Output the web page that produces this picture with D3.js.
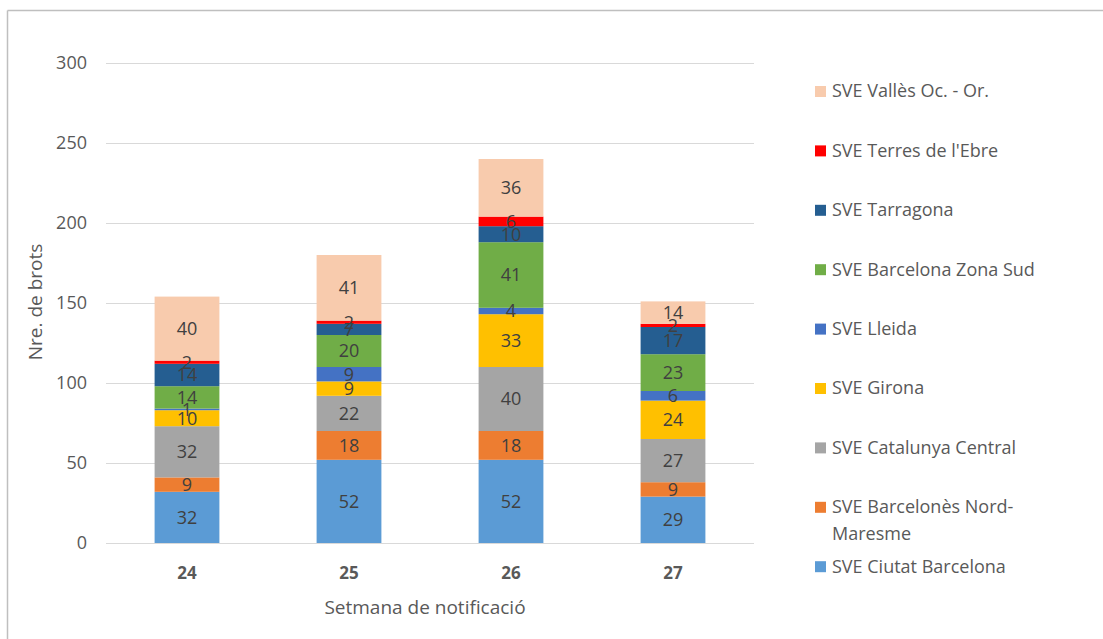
<!DOCTYPE html>
<html lang="en">
<head>
<meta charset="utf-8" />
<title>Brots per setmana</title>
<style>
  html, body { margin: 0; padding: 0; background: #ffffff; }
  svg { display: block; font-family: "Open Sans", "Liberation Sans", sans-serif; }
  .grid line { stroke: #d9d9d9; stroke-width: 1; shape-rendering: crispEdges; }
  .ytick text { fill: #595959; font-size: 18px; }
  .xtick text { fill: #595959; font-size: 17px; font-weight: bold; }
  .lbl { fill: #404040; font-size: 18px; }
  .legend text { fill: #595959; font-size: 18px; }
</style>
<script src="https://d3js.org/d3.v7.min.js"></script>
</head>
<body>
<svg width="1103" height="639"></svg>
<script>
// weeks on the x axis
var weeks = ["24", "25", "26", "27"];

// series, bottom to top
var series = [
  "SVE Ciutat Barcelona",
  "SVE Barcelonès Nord-Maresme",
  "SVE Catalunya Central",
  "SVE Girona",
  "SVE Lleida",
  "SVE Barcelona Zona Sud",
  "SVE Tarragona",
  "SVE Terres de l'Ebre",
  "SVE Vallès Oc. - Or."
];
var colors = ["#5b9bd5", "#ed7d31", "#a5a5a5", "#ffc000", "#4472c4", "#70ad47", "#255e91", "#ff0000", "#f8cbad"];

// values per series, one per week
var ciutatBcn   = [32, 52, 52, 29];
var bcnNord     = [9, 18, 18, 9];
var catCentral  = [32, 22, 40, 27];
var girona      = [10, 9, 33, 24];
var lleida      = [1, 9, 4, 6];
var bcnSud      = [14, 20, 41, 23];
var tarragona   = [14, 7, 10, 17];
var terresEbre  = [2, 2, 6, 2];
var valles      = [40, 41, 36, 14];
var values = [ciutatBcn, bcnNord, catCentral, girona, lleida, bcnSud, tarragona, terresEbre, valles];

var yTicks = [0, 50, 100, 150, 200, 250, 300];

var svg = d3.select("svg");

// chart frame (only top and left edges visible)
svg.append("line").attr("x1", 7.5).attr("x2", 1103).attr("y1", 10.5).attr("y2", 10.5)
   .attr("stroke", "#bfbfbf").attr("stroke-width", 1.5);
svg.append("line").attr("x1", 7.5).attr("x2", 7.5).attr("y1", 10.5).attr("y2", 639)
   .attr("stroke", "#bfbfbf").attr("stroke-width", 1.5);

var plotL = 106, plotR = 754, plotT = 63, plotB = 543;

var x = d3.scaleBand().domain(weeks).range([plotL, plotR]).paddingInner(0.6).paddingOuter(0.3);
var y = d3.scaleLinear().domain([0, 300]).range([plotB, plotT]);

// gridlines + y labels
var gy = svg.append("g").attr("class", "grid");
yTicks.forEach(function(t) {
  gy.append("line").attr("x1", plotL).attr("x2", plotR)
    .attr("y1", Math.round(y(t)) + 0.5).attr("y2", Math.round(y(t)) + 0.5);
});
svg.append("g").attr("class", "ytick").selectAll("text").data(yTicks).enter().append("text")
   .attr("x", 87).attr("y", function(d) { return y(d); }).attr("dy", "0.35em")
   .attr("text-anchor", "end").text(function(d) { return d; });

// stacked bars
var rows = weeks.map(function(w, i) {
  var r = { week: w };
  series.forEach(function(s, j) { r[s] = values[j][i]; });
  return r;
});
var stack = d3.stack().keys(series)(rows);

var layers = svg.append("g").selectAll("g").data(stack).enter().append("g")
  .attr("fill", function(d, i) { return colors[i]; });
layers.selectAll("rect").data(function(d) { return d; }).enter().append("rect")
  .attr("x", function(d) { return x(d.data.week); })
  .attr("y", function(d) { return y(d[1]); })
  .attr("width", x.bandwidth())
  .attr("height", function(d) { return y(d[0]) - y(d[1]); });

// data labels (drawn after all bars so none is hidden)
var labels = svg.append("g");
stack.forEach(function(layer) {
  labels.selectAll(null).data(layer).enter().append("text")
    .attr("class", "lbl")
    .attr("x", function(d) { return x(d.data.week) + x.bandwidth() / 2; })
    .attr("y", function(d) { return (y(d[0]) + y(d[1])) / 2; })
    .attr("dy", "0.35em").attr("text-anchor", "middle")
    .text(function(d) { return d[1] - d[0]; });
});

// x labels
svg.append("g").attr("class", "xtick").selectAll("text").data(weeks).enter().append("text")
   .attr("x", function(d) { return x(d) + x.bandwidth() / 2; })
   .attr("y", 573).attr("dy", "0.35em").attr("text-anchor", "middle")
   .text(function(d) { return d; });

// axis titles
svg.append("text").attr("x", 425).attr("y", 607).attr("dy", "0.35em")
   .attr("text-anchor", "middle").attr("fill", "#595959").attr("font-size", 19)
   .text("Setmana de notificació");
svg.append("text").attr("transform", "translate(35,302) rotate(-90)").attr("dy", "0.35em")
   .attr("text-anchor", "middle").attr("fill", "#595959").attr("font-size", 19)
   .text("Nre. de brots");

// legend, top to bottom reversed
var legendItems = series.map(function(s, i) { return { name: s, color: colors[i] }; }).reverse();
var lg = svg.append("g").attr("class", "legend");
legendItems.forEach(function(d, i) {
  var yy = 91 + i * 59.4;
  lg.append("rect").attr("x", 815).attr("y", yy - 5).attr("width", 11).attr("height", 11).attr("fill", d.color);
  var t = lg.append("text").attr("x", 832).attr("y", yy).attr("dy", "0.35em");
  if (d.name === "SVE Barcelonès Nord-Maresme") {
    t.append("tspan").attr("x", 832).text("SVE Barcelonès Nord-");
    t.append("tspan").attr("x", 832).attr("dy", 27).text("Maresme");
  } else {
    t.text(d.name);
  }
});
</script>
</body>
</html>
